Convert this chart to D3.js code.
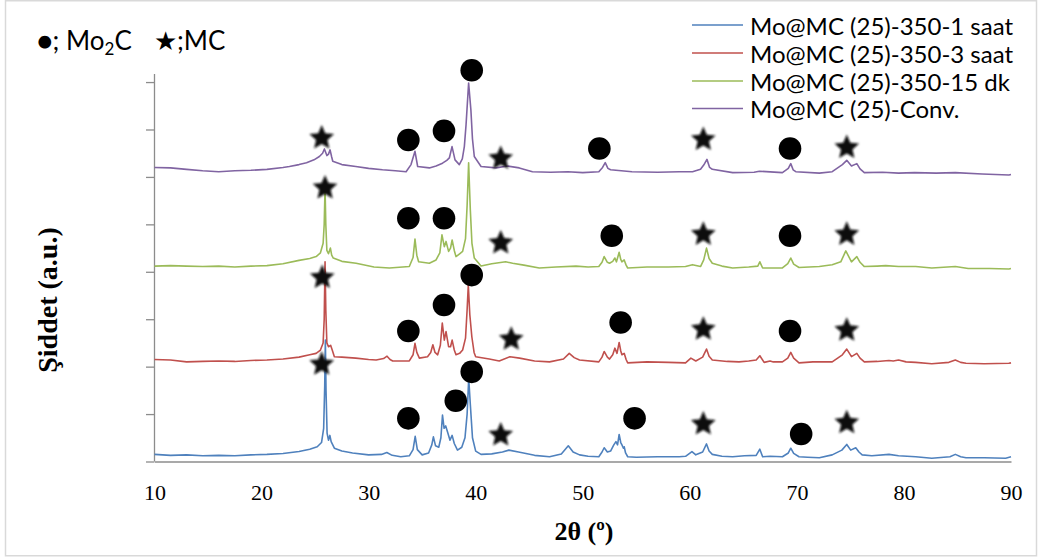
<!DOCTYPE html>
<html>
<head>
<meta charset="utf-8">
<script src="https://cdn.jsdelivr.net/npm/d3@7"></script>
<style>
  html, body { margin: 0; padding: 0; background: #ffffff; }
  svg { display: block; }
</style>
</head>
<body>
<svg id="chart" width="1039" height="558"></svg>
<script>
// XRD patterns, [2θ (°), intensity (a.u., stacked)]
const saat1 = [[10,0.15],[11.5,0.13],[13,0.14],[14.5,0.12],[16,0.13],[17.5,0.12],[19,0.14],[20.5,0.15],[22,0.17],[23.5,0.21],[24.5,0.26],[25.2,0.31],[25.6,0.4],[25.8,0.7],[25.9,1.6],[25.96,2.56],[26.02,1.5],[26.12,0.6],[26.25,0.45],[26.38,0.55],[26.5,0.42],[26.8,0.28],[27.5,0.22],[28.5,0.18],[30,0.14],[31.2,0.15],[31.7,0.19],[32.2,0.13],[33,0.1],[33.8,0.12],[34.15,0.25],[34.35,0.53],[34.55,0.25],[35,0.14],[35.6,0.18],[35.9,0.35],[36.05,0.52],[36.25,0.33],[36.55,0.3],[36.75,0.5],[36.9,0.98],[37.05,0.7],[37.2,0.75],[37.4,0.6],[37.6,0.45],[37.8,0.55],[38.0,0.38],[38.3,0.24],[38.7,0.3],[39.0,0.5],[39.2,1.0],[39.35,1.75],[39.5,1.2],[39.7,0.5],[40.0,0.22],[40.5,0.15],[41.5,0.16],[42.5,0.2],[43.1,0.24],[44,0.2],[45.5,0.13],[46.9,0.1],[48,0.16],[48.65,0.33],[49.1,0.2],[49.7,0.14],[50.5,0.11],[51.5,0.1],[51.8,0.2],[52.0,0.29],[52.3,0.2],[52.6,0.22],[52.9,0.35],[53.1,0.42],[53.25,0.35],[53.4,0.57],[53.55,0.4],[53.66,0.35],[53.8,0.28],[53.87,0.31],[54.0,0.18],[54.2,0.1],[55,0.09],[57,0.1],[59,0.1],[59.6,0.11],[60.2,0.21],[60.56,0.14],[61.2,0.2],[61.56,0.37],[61.8,0.22],[62.1,0.15],[63,0.11],[64,0.1],[65.1,0.12],[66.2,0.13],[66.54,0.26],[66.8,0.1],[67.5,0.11],[68.65,0.1],[69.2,0.18],[69.43,0.28],[69.7,0.17],[70.2,0.1],[71,0.09],[72.1,0.08],[73.3,0.14],[74.2,0.24],[74.66,0.36],[75.03,0.24],[75.5,0.29],[75.8,0.2],[76.1,0.14],[77,0.12],[78.6,0.15],[79.5,0.12],[81.1,0.1],[82.6,0.07],[84.3,0.1],[84.8,0.15],[85.3,0.1],[85.8,0.08],[87.5,0.08],[89.5,0.07],[90,0.1]];

const saat3 = [[10,2.15],[11.5,2.14],[13,2.1],[14.5,2.11],[16,2.12],[17.5,2.11],[19,2.13],[20.5,2.14],[22,2.16],[23.5,2.2],[24.5,2.25],[25.1,2.28],[25.5,2.35],[25.75,2.5],[25.85,3.0],[25.93,4.21],[26.0,3.2],[26.1,2.5],[26.25,2.42],[26.45,2.45],[26.6,2.35],[26.8,2.21],[27.5,2.2],[28.8,2.18],[30,2.15],[30.7,2.14],[31.4,2.17],[31.72,2.22],[32.0,2.15],[32.25,2.12],[33.8,2.12],[34.15,2.25],[34.33,2.49],[34.5,2.3],[34.74,2.18],[35.5,2.21],[35.8,2.3],[36.0,2.46],[36.2,2.3],[36.45,2.25],[36.7,2.45],[36.88,2.92],[37.07,2.56],[37.23,2.74],[37.47,2.42],[37.65,2.42],[37.8,2.56],[38.0,2.35],[38.16,2.25],[38.5,2.28],[38.78,2.35],[39.05,2.6],[39.2,3.2],[39.31,3.72],[39.45,3.1],[39.64,2.63],[39.85,2.3],[40.0,2.21],[41.27,2.16],[42.2,2.12],[43.2,2.21],[44.1,2.18],[45.5,2.12],[46.9,2.1],[48.2,2.16],[48.74,2.28],[49.2,2.19],[49.7,2.14],[51.5,2.1],[51.8,2.2],[52.0,2.32],[52.3,2.2],[52.5,2.16],[52.8,2.25],[53.0,2.39],[53.2,2.28],[53.4,2.51],[53.55,2.33],[53.66,2.25],[53.87,2.28],[54.05,2.15],[54.2,2.08],[56,2.1],[58,2.09],[59.6,2.08],[60.1,2.18],[60.56,2.12],[61.2,2.2],[61.56,2.37],[61.8,2.22],[62.1,2.14],[63.5,2.11],[64.6,2.1],[65.5,2.12],[66.2,2.14],[66.54,2.23],[66.94,2.09],[67.5,2.12],[67.8,2.1],[68.65,2.1],[69.15,2.18],[69.43,2.3],[69.7,2.18],[70.2,2.08],[71.5,2.1],[72.4,2.1],[73.3,2.1],[74.25,2.25],[74.66,2.37],[75.1,2.21],[75.6,2.28],[75.9,2.18],[76.3,2.1],[77.5,2.11],[78.6,2.13],[79.0,2.12],[79.5,2.14],[80.2,2.1],[81.1,2.09],[82.6,2.06],[84.2,2.09],[84.8,2.14],[85.3,2.09],[85.8,2.07],[87.5,2.06],[89.8,2.07],[90,2.08]];

const dk15 = [[10,4.12],[11.5,4.13],[13,4.12],[14.5,4.11],[16,4.12],[17.5,4.1],[19,4.12],[20.5,4.13],[22,4.17],[23.5,4.24],[24.5,4.28],[25.1,4.32],[25.5,4.4],[25.75,4.6],[25.85,5.0],[25.93,5.77],[26.0,5.0],[26.1,4.45],[26.25,4.38],[26.43,4.5],[26.55,4.35],[26.7,4.29],[27.5,4.22],[28.83,4.18],[30.5,4.1],[31.94,4.08],[33.8,4.11],[34.15,4.3],[34.33,4.69],[34.5,4.35],[34.67,4.21],[35.67,4.18],[36.3,4.25],[36.65,4.4],[36.85,4.78],[37.07,4.53],[37.23,4.64],[37.47,4.43],[37.65,4.5],[37.8,4.67],[38.0,4.45],[38.16,4.32],[38.5,4.38],[38.78,4.43],[39.05,4.7],[39.2,5.4],[39.34,6.3],[39.5,5.3],[39.65,4.6],[39.87,4.29],[40.5,4.12],[41.5,4.17],[42.8,4.21],[43.45,4.18],[44.5,4.14],[45.94,4.08],[47.5,4.1],[49.37,4.12],[50.5,4.1],[51.5,4.11],[51.8,4.2],[52.0,4.32],[52.3,4.2],[52.5,4.18],[52.8,4.22],[53.0,4.29],[53.15,4.21],[53.4,4.41],[53.55,4.26],[53.66,4.21],[53.87,4.25],[54.05,4.14],[54.2,4.08],[56,4.1],[58,4.1],[59.6,4.11],[60.25,4.15],[61.0,4.11],[61.3,4.25],[61.56,4.5],[61.8,4.28],[62.1,4.18],[63,4.12],[64,4.08],[65.5,4.1],[66.35,4.12],[66.54,4.21],[66.8,4.08],[68.65,4.08],[69.15,4.17],[69.43,4.29],[69.7,4.16],[70.2,4.09],[72.1,4.11],[73.3,4.15],[74.1,4.21],[74.57,4.44],[75.1,4.21],[75.6,4.32],[75.9,4.2],[76.3,4.11],[77.5,4.12],[78.3,4.13],[79.5,4.11],[81.1,4.11],[82.6,4.08],[84.8,4.11],[86,4.07],[88,4.07],[89.8,4.06],[90,4.07]];

const conv = [[10,6.2],[11.5,6.19],[13,6.16],[14.5,6.13],[16,6.11],[17.5,6.13],[19,6.14],[20.5,6.16],[22,6.2],[22.6,6.22],[23.5,6.26],[24.2,6.3],[24.9,6.36],[25.4,6.43],[25.7,6.5],[25.87,6.59],[26.1,6.45],[26.25,6.48],[26.4,6.57],[26.55,6.42],[26.65,6.33],[27.5,6.26],[28.8,6.22],[30,6.18],[31.3,6.15],[32.5,6.13],[33.5,6.11],[33.96,6.26],[34.33,6.54],[34.58,6.22],[35.67,6.19],[36.3,6.23],[36.9,6.29],[37.3,6.35],[37.54,6.4],[37.79,6.64],[38.07,6.36],[38.47,6.26],[38.75,6.38],[38.94,6.64],[39.1,7.1],[39.34,7.98],[39.55,7.42],[39.7,6.8],[39.87,6.43],[40.5,6.22],[41.9,6.19],[42.98,6.23],[44.07,6.19],[45.3,6.11],[47,6.1],[48.6,6.11],[50,6.09],[51.5,6.11],[51.85,6.2],[52.1,6.3],[52.35,6.18],[52.6,6.15],[54.6,6.11],[57,6.1],[59,6.11],[60.25,6.11],[61.0,6.16],[61.3,6.25],[61.6,6.37],[61.85,6.2],[62.1,6.16],[64,6.09],[66,6.1],[66.5,6.12],[68.65,6.09],[69.2,6.18],[69.43,6.28],[69.65,6.15],[69.9,6.11],[72.1,6.08],[73.3,6.11],[74.25,6.26],[74.66,6.35],[75.1,6.23],[75.6,6.28],[75.9,6.17],[76.3,6.09],[78,6.1],[79.5,6.08],[81,6.09],[83,6.08],[84.8,6.09],[87.3,6.06],[89.8,6.04],[90,6.05]];

const seriesNames = ["Mo@MC (25)-350-1 saat", "Mo@MC (25)-350-3 saat", "Mo@MC (25)-350-15 dk", "Mo@MC (25)-Conv."];
const seriesColors = ["#4F81BD", "#C0504D", "#9BBB59", "#8064A2"];
const seriesData = [saat1, saat3, dk15, conv];

// phase annotations: ● Mo2C, ★ MC  ([2θ, intensity])
const mo2cMarks = [[33.71,6.78],[37.04,6.97],[39.63,8.25],[51.55,6.6],[69.36,6.6],
  [33.71,5.13],[37.04,5.13],[52.71,4.76],[69.36,4.76],
  [33.71,2.75],[37.04,3.3],[39.63,3.93],[53.54,2.93],[69.36,2.75],
  [33.71,0.91],[38.14,1.28],[39.63,1.89],[54.84,0.91],[70.4,0.58]];
const mcMarks = [[25.62,6.84],[42.34,6.41],[61.26,6.81],[74.66,6.64],
  [25.93,5.79],[42.34,4.63],[61.26,4.81],[74.66,4.81],
  [25.67,3.9],[43.32,2.6],[61.26,2.81],[74.66,2.79],
  [25.62,2.07],[42.34,0.58],[61.26,0.81],[74.66,0.84]];

const xTicks = [10, 20, 30, 40, 50, 60, 70, 80, 90];
const yTicks = [0, 1, 2, 3, 4, 5, 6, 7, 8];

const serifFont = "'Liberation Serif', 'Times New Roman', serif";
const sansFont = "Lato, 'Open Sans', sans-serif";

const svg = d3.select("#chart");
const plot = { left: 154.5, right: 1011, top: 74, bottom: 461.5 };

const x = d3.scaleLinear().domain([10, 90]).range([plot.left, plot.right]);
const y = d3.scaleLinear().domain([0, 8.17]).range([plot.bottom, plot.top]);

const defs = svg.append("defs");
defs.append("filter").attr("id", "soft")
  .attr("x", "-30%").attr("y", "-30%").attr("width", "160%").attr("height", "160%")
  .append("feGaussianBlur").attr("stdDeviation", 0.9);

// chart area frame
svg.append("rect")
  .attr("x", 5.5).attr("y", 0.75).attr("width", 1031).attr("height", 555)
  .attr("fill", "#ffffff").attr("stroke", "#D9D9D9").attr("stroke-width", 1.5);

// axes
const axisColor = "#8C8C8C";
const gy = svg.append("g").attr("transform", `translate(${plot.left},0)`)
  .call(d3.axisLeft(y).tickValues(yTicks).tickSize(8.5).tickFormat(""));
gy.select(".domain").attr("stroke", axisColor).attr("stroke-width", 1.3)
  .attr("d", `M0,${plot.bottom}V${plot.top}`);
gy.selectAll(".tick line").attr("stroke", axisColor).attr("stroke-width", 1.3);

const gx = svg.append("g").attr("transform", `translate(0,${plot.bottom})`)
  .call(d3.axisBottom(x).tickValues(xTicks).tickSize(0).tickPadding(23).tickFormat(d3.format("d")));
gx.attr("font-family", serifFont).attr("font-size", 22);
gx.select(".domain").attr("stroke", axisColor).attr("stroke-width", 1.3);
gx.selectAll(".tick text").attr("fill", "#000");

// axis titles
svg.append("text")
  .attr("x", 584).attr("y", 540)
  .attr("text-anchor", "middle")
  .attr("font-family", serifFont)
  .attr("font-weight", "bold").attr("font-size", 26).attr("fill", "#000")
  .text("2θ (º)");

svg.append("text")
  .attr("transform", "translate(57,300) rotate(-90)")
  .attr("text-anchor", "middle")
  .attr("font-family", serifFont)
  .attr("font-weight", "bold").attr("font-size", 28).attr("fill", "#000")
  .text("Şiddet (a.u.)");

// patterns
const line = d3.line().x(d => x(d[0])).y(d => y(d[1])).curve(d3.curveLinear);
svg.append("g").selectAll("path")
  .data(seriesData)
  .join("path")
  .attr("d", line)
  .attr("fill", "none")
  .attr("stroke", (d, i) => seriesColors[i])
  .attr("stroke-width", 1.6)
  .attr("stroke-linejoin", "round");

// phase markers
function starPath(cx, cy, R, r) {
  const p = d3.path();
  for (let k = 0; k < 10; k++) {
    const a = -Math.PI / 2 + k * Math.PI / 5;
    const rad = k % 2 === 0 ? R : r;
    const px = cx + rad * Math.cos(a), py = cy + rad * Math.sin(a);
    if (k === 0) p.moveTo(px, py); else p.lineTo(px, py);
  }
  p.closePath();
  return p.toString();
}

svg.append("g").selectAll("circle")
  .data(mo2cMarks)
  .join("circle")
  .attr("cx", d => x(d[0])).attr("cy", d => y(d[1]))
  .attr("r", 11.3).attr("fill", "#000");

svg.append("g").attr("filter", "url(#soft)").selectAll("path")
  .data(mcMarks)
  .join("path")
  .attr("d", d => starPath(x(d[0]), y(d[1]) + 1, 13, 6))
  .attr("fill", "#111");

// series legend
const legend = svg.append("g");
const rowY = [25, 53, 81, 108.5];
seriesNames.forEach((name, i) => {
  legend.append("line")
    .attr("x1", 692).attr("x2", 743).attr("y1", rowY[i]).attr("y2", rowY[i])
    .attr("stroke", seriesColors[i]).attr("stroke-width", 1.3);
  legend.append("text")
    .attr("x", 750).attr("y", rowY[i])
    .attr("dominant-baseline", "central")
    .attr("font-family", sansFont)
    .attr("font-size", 24).attr("fill", "#000")
    .text(name);
});

// phase key
const key = svg.append("text")
  .attr("x", 37).attr("y", 50)
  .attr("font-family", sansFont)
  .attr("font-size", 26).attr("fill", "#000");
key.append("tspan").text("●; Mo");
key.append("tspan").attr("font-size", 17).attr("dy", 5).text("2");
key.append("tspan").attr("dy", -5).text("C");
key.append("tspan").attr("x", 154).text("★;MC");
</script>
</body>
</html>
